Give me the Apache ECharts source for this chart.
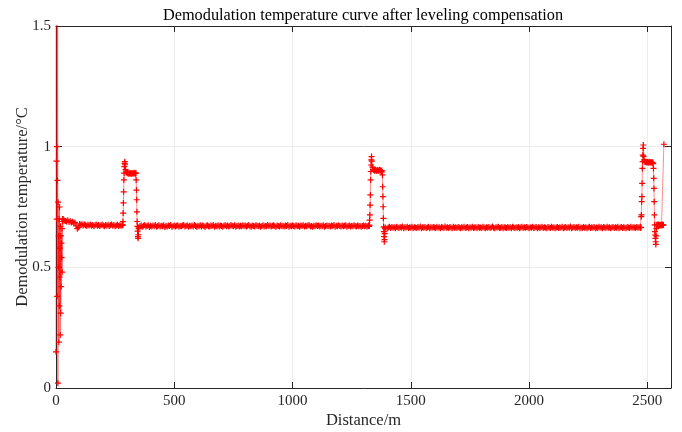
<!DOCTYPE html>
<html>
<head>
<meta charset="utf-8">
<title>Demodulation temperature</title>
<script src="https://cdn.jsdelivr.net/npm/echarts@6/dist/echarts.min.js"></script>
<style>
    html, body { margin: 0; padding: 0; background: #fff; }
    #main { width: 682px; height: 432px; }
</style>
</head>
<body>
<div id="main"></div>
<script>
// 各段数据: 起点(m)、采样间隔(m)、温度值
var startTemp = [0.15, 2.2, 0.94, 0.70, 1.00, 0.38, 0.86, 2.0, 0.02, 0.77,
    0.50, 0.63, 0.19, 0.70, 0.34, 0.75, 0.46, 0.58, 0.22, 0.67,
    0.31, 0.63, 0.42, 0.60, 0.54, 0.66, 0.48, 0.69, 0.70, 0.69];
var flatTemp1 = [0.700, 0.694, 0.692, 0.690, 0.695, 0.688, 0.691, 0.686, 0.689, 0.684,
    0.686, 0.672, 0.660, 0.665, 0.680, 0.676, 0.679, 0.673, 0.677, 0.674,
    0.671, 0.676, 0.673, 0.678, 0.672, 0.675, 0.670, 0.674, 0.677, 0.672,
    0.675, 0.671, 0.674, 0.677, 0.673, 0.670, 0.675, 0.672, 0.676, 0.671,
    0.674, 0.677, 0.672, 0.675, 0.670, 0.673, 0.676, 0.671, 0.674, 0.672,
    0.675];
var riseTemp1 = [0.674, 0.676, 0.689, 0.725, 0.767, 0.813, 0.862, 0.890, 0.917, 0.931, 0.938, 0.925];
var plateauTemp1 = [0.905, 0.895, 0.890, 0.892, 0.888, 0.891, 0.889, 0.890, 0.887, 0.891,
    0.889, 0.890, 0.888, 0.892, 0.889];
var fallTemp1 = [0.890, 0.862, 0.820, 0.780, 0.730, 0.690, 0.670, 0.650, 0.627, 0.620, 0.635, 0.660];
var flatTemp2 = [0.666, 0.670, 0.673, 0.668, 0.672, 0.675, 0.669, 0.671, 0.674, 0.667,
    0.672, 0.669, 0.673, 0.670, 0.675, 0.668, 0.671, 0.674, 0.669, 0.672,
    0.670, 0.674, 0.667, 0.672, 0.669, 0.673, 0.671, 0.675, 0.668, 0.670,
    0.673, 0.669, 0.672, 0.674, 0.668, 0.671, 0.670, 0.673, 0.675, 0.669,
    0.671, 0.674, 0.668, 0.672, 0.670, 0.673, 0.669, 0.675, 0.671, 0.668,
    0.672, 0.670, 0.674, 0.669, 0.673, 0.671, 0.667, 0.672, 0.674, 0.670,
    0.669, 0.673, 0.671, 0.675, 0.668, 0.672, 0.670, 0.674, 0.669, 0.673,
    0.671, 0.668, 0.672, 0.674, 0.670, 0.673, 0.669, 0.671, 0.675, 0.672,
    0.670, 0.674, 0.668, 0.671, 0.673, 0.669, 0.672, 0.670, 0.674, 0.671,
    0.673, 0.669, 0.672, 0.675, 0.670, 0.668, 0.673, 0.671, 0.669, 0.674,
    0.672, 0.670, 0.673, 0.668, 0.671, 0.674, 0.669, 0.672, 0.670, 0.675,
    0.671, 0.673, 0.669, 0.672, 0.674, 0.670, 0.668, 0.673, 0.671, 0.669,
    0.674, 0.670, 0.672, 0.669, 0.673, 0.671, 0.675, 0.668, 0.672, 0.670,
    0.673, 0.671, 0.669, 0.674, 0.670, 0.672, 0.668, 0.673, 0.671, 0.674,
    0.669, 0.672, 0.670, 0.673, 0.675, 0.669, 0.671, 0.668, 0.672, 0.670,
    0.674, 0.671, 0.673, 0.669, 0.672, 0.670, 0.674, 0.668, 0.671, 0.673,
    0.670, 0.672, 0.669, 0.673, 0.671, 0.675, 0.668, 0.672, 0.670, 0.674,
    0.671, 0.669, 0.673, 0.670, 0.672, 0.674, 0.668, 0.671, 0.673, 0.669,
    0.672, 0.670, 0.674, 0.671, 0.669, 0.673, 0.670, 0.672, 0.668, 0.671,
    0.673, 0.670, 0.672, 0.669, 0.671];
var riseTemp2 = [0.671, 0.673, 0.670, 0.672, 0.675, 0.696, 0.717, 0.758, 0.800, 0.862,
    0.897, 0.924, 0.945, 0.959, 0.940];
var plateauTemp2 = [0.915, 0.905, 0.903, 0.900, 0.904, 0.902, 0.899, 0.903, 0.901, 0.900,
    0.904, 0.902, 0.898, 0.901];
var fallTemp2 = [0.895, 0.883, 0.834, 0.793, 0.751, 0.703, 0.668, 0.648, 0.627, 0.606,
    0.615, 0.640, 0.660, 0.665];
var flatTemp3 = [0.661, 0.665, 0.668, 0.663, 0.667, 0.664, 0.666, 0.662, 0.668, 0.665,
    0.663, 0.667, 0.664, 0.669, 0.662, 0.666, 0.665, 0.668, 0.663, 0.666,
    0.664, 0.668, 0.662, 0.666, 0.665, 0.663, 0.667, 0.664, 0.669, 0.662,
    0.666, 0.664, 0.667, 0.663, 0.665, 0.668, 0.662, 0.666, 0.664, 0.667,
    0.665, 0.663, 0.668, 0.664, 0.666, 0.662, 0.667, 0.665, 0.663, 0.669,
    0.664, 0.666, 0.663, 0.667, 0.665, 0.662, 0.668, 0.664, 0.666, 0.663,
    0.667, 0.665, 0.662, 0.666, 0.664, 0.668, 0.663, 0.665, 0.667, 0.662,
    0.666, 0.664, 0.668, 0.663, 0.665, 0.666, 0.662, 0.667, 0.664, 0.665,
    0.663, 0.668, 0.665, 0.662, 0.666, 0.664, 0.667, 0.663, 0.665, 0.669,
    0.664, 0.662, 0.666, 0.665, 0.668, 0.663, 0.664, 0.667, 0.662, 0.666,
    0.665, 0.663, 0.667, 0.664, 0.666, 0.662, 0.668, 0.665, 0.663, 0.666,
    0.664, 0.667, 0.662, 0.665, 0.668, 0.663, 0.666, 0.664, 0.667, 0.665,
    0.662, 0.666, 0.664, 0.668, 0.663, 0.665, 0.667, 0.662, 0.666, 0.664,
    0.665, 0.668, 0.663, 0.666, 0.664, 0.662, 0.667, 0.665, 0.663, 0.668,
    0.664, 0.666, 0.662, 0.665, 0.667, 0.663, 0.666, 0.664, 0.668, 0.662,
    0.665, 0.667, 0.663, 0.666, 0.664, 0.669, 0.662, 0.665, 0.667, 0.663,
    0.666, 0.664, 0.668, 0.662, 0.665, 0.663, 0.667, 0.664, 0.666, 0.662,
    0.665, 0.668, 0.663, 0.666, 0.664, 0.667, 0.662, 0.665, 0.663, 0.668,
    0.664, 0.666, 0.662, 0.667, 0.665, 0.663, 0.668, 0.664, 0.666, 0.662,
    0.665, 0.667, 0.663, 0.666, 0.664, 0.668, 0.662, 0.665, 0.667, 0.663,
    0.666, 0.664, 0.662, 0.667, 0.665, 0.663, 0.668, 0.664, 0.666, 0.665,
    0.663, 0.667, 0.664, 0.666, 0.665];
var riseTemp3 = [0.664, 0.666, 0.665, 0.710, 0.717, 0.772, 0.793, 0.848, 0.910, 0.938,
    0.965, 0.993, 1.007, 0.960];
var plateauTemp3 = [0.945, 0.938, 0.935, 0.937, 0.934, 0.936, 0.933, 0.937, 0.935, 0.934,
    0.936, 0.933, 0.935, 0.930];
var fallTemp3 = [0.910, 0.869, 0.827, 0.772, 0.717, 0.676, 0.648, 0.634, 0.620, 0.606,
    0.595, 0.630, 0.660];
var tailTemp = [0.675, 0.678, 0.673, 0.676, 0.674, 0.677, 0.675, 0.673, 0.676, 0.674,
    0.675, 0.677, 0.674, 0.676, 0.675];
var endTemp = [1.01];

// [起点 m, 间隔 m, 数据]
var segments = [
    [0, 1, startTemp],
    [30, 5, flatTemp1],
    [281, 1, riseTemp1],
    [294, 3, plateauTemp1],
    [338, 1, fallTemp1],
    [350, 5, flatTemp2],
    [1321, 1, riseTemp2],
    [1338, 3, plateauTemp2],
    [1379, 1, fallTemp2],
    [1400, 5, flatTemp3],
    [2471, 1, riseTemp3],
    [2486, 3, plateauTemp3],
    [2526, 1, fallTemp3],
    [2540, 2, tailTemp],
    [2570, 1, endTemp]
];

var xTicks = [0, 500, 1000, 1500, 2000, 2500];
var yTicks = [0, 0.5, 1, 1.5];

(function() {
    var myChart = echarts.init(document.getElementById('main'));

    var data = [];
    segments.forEach(function(seg) {
        seg[2].forEach(function(v, i) {
            data.push([seg[0] + i * seg[1], v]);
        });
    });

    var font = 'Liberation Serif';
    var textColor = '#262626';
    // 十字标记
    var plus = 'path://M4,0H6V4H10V6H6V10H4V6H0V4H4Z';

    option = {
        animation: false,
        backgroundColor: '#fff',
        title: {
            text: 'Demodulation temperature curve after leveling compensation',
            left: 358,
            textAlign: 'center',
            top: 3,
            textStyle: {
                fontFamily: font,
                fontSize: 16.3,
                fontWeight: 'normal',
                color: '#000'
            }
        },
        grid: {
            left: 56,
            right: 11,
            top: 26,
            bottom: 44,
            outerBoundsMode: 'none'
        },
        xAxis: [{
            type: 'value',
            min: 0,
            max: 2600,
            interval: 500,
            name: 'Distance/m',
            nameLocation: 'middle',
            nameGap: 24,
            nameMoveOverlap: false,
            nameTextStyle: { fontFamily: font, fontSize: 16.5, color: textColor },
            axisLine: { onZero: false, lineStyle: { color: textColor, width: 1 } },
            axisTick: { inside: true, length: 6, lineStyle: { color: textColor } },
            axisLabel: {
                fontFamily: font, fontSize: 15, color: textColor, margin: 6,
                showMaxLabel: false,
                formatter: function(v) { return xTicks.indexOf(v) >= 0 ? String(v) : ''; }
            },
            splitLine: { show: true, lineStyle: { color: '#ececec', width: 1 } }
        }, {
            type: 'value',
            position: 'top',
            min: 0,
            max: 2600,
            interval: 500,
            axisLine: { onZero: false, lineStyle: { color: textColor, width: 1 } },
            axisTick: { inside: true, length: 6, lineStyle: { color: textColor } },
            axisLabel: { show: false },
            splitLine: { show: false }
        }],
        yAxis: [{
            type: 'value',
            min: 0,
            max: 1.5,
            interval: 0.5,
            name: 'Demodulation temperature/°C',
            nameLocation: 'middle',
            nameGap: 25,
            nameMoveOverlap: false,
            nameTextStyle: { fontFamily: font, fontSize: 16.5, color: textColor },
            axisLine: { show: true, onZero: false, lineStyle: { color: textColor, width: 1 } },
            axisTick: { show: true, inside: true, length: 6, lineStyle: { color: textColor } },
            axisLabel: {
                fontFamily: font, fontSize: 15, color: textColor, margin: 5,
                formatter: function(v) { return yTicks.indexOf(v) >= 0 ? String(v) : ''; }
            },
            splitLine: { show: true, lineStyle: { color: '#ececec', width: 1 } }
        }, {
            type: 'value',
            position: 'right',
            min: 0,
            max: 1.5,
            interval: 0.5,
            axisLine: { show: true, onZero: false, lineStyle: { color: textColor, width: 1 } },
            axisTick: { show: true, inside: true, length: 6, lineStyle: { color: textColor } },
            axisLabel: { show: false },
            splitLine: { show: false }
        }],
        series: [{
            name: 'Temperature',
            type: 'line',
            xAxisIndex: 0,
            yAxisIndex: 0,
            data: data,
            clip: true,
            showSymbol: true,
            showAllSymbol: true,
            symbol: plus,
            symbolSize: 6,
            itemStyle: { color: '#ff0000' },
            lineStyle: { color: 'rgba(255, 0, 0, 0.45)', width: 1 },
            z: 3
        }]
    };

    myChart.setOption(option);
})();
</script>
</body>
</html>
